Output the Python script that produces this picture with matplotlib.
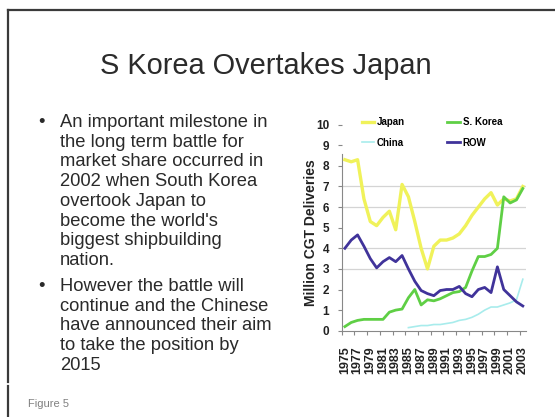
import matplotlib
matplotlib.use("Agg")
import matplotlib.pyplot as plt
from matplotlib.lines import Line2D

plt.rcParams["font.family"] = ["Liberation Sans", "DejaVu Sans"]

# deliveries, million CGT
years = list(range(1975, 2004))
japan = [8.3, 8.2, 8.3, 6.4, 5.3, 5.1, 5.5, 5.8, 4.9, 7.1,
         6.5, 5.3, 4.0, 3.0, 4.1, 4.4, 4.4, 4.5, 4.7, 5.1,
         5.6, 6.0, 6.4, 6.7, 6.1, 6.4, 6.3, 6.4, 7.0]
korea = [0.2, 0.4, 0.5, 0.55, 0.55, 0.55, 0.55, 0.9, 1.0, 1.05,
         1.6, 2.0, 1.25, 1.5, 1.45, 1.55, 1.7, 1.85, 1.9, 2.1,
         2.9, 3.6, 3.6, 3.7, 4.0, 6.5, 6.2, 6.35, 6.9]
china = [None] * 10 + [0.15, 0.2, 0.25, 0.25, 0.3, 0.3, 0.35, 0.4, 0.5, 0.55,
                       0.65, 0.8, 1.0, 1.15, 1.15, 1.25, 1.35, 1.5, 2.5]
row = [4.0, 4.4, 4.65, 4.1, 3.5, 3.05, 3.35, 3.55, 3.35, 3.65,
       3.0, 2.4, 1.95, 1.8, 1.7, 1.95, 2.0, 2.0, 2.15, 1.8,
       1.65, 2.0, 2.1, 1.85, 3.1, 2.0, 1.7, 1.4, 1.2]

year_labels = [str(y) for y in years[::2]]
grid_levels = [3, 4, 6, 7]

title = "S Korea Overtakes Japan"
bullets = [
    ["An important milestone in", "the long term battle for",
     "market share occurred in", "2002 when South Korea",
     "overtook Japan to", "become the world's",
     "biggest shipbuilding", "nation."],
    ["However the battle will", "continue and the Chinese",
     "have announced their aim", "to take the position by", "2015"],
]

W, H = 555, 417
fig = plt.figure(figsize=(W / 100, H / 100), dpi=100)
fig.patch.set_facecolor("white")


def fx(px):
    return px / W


def fy(py):
    return 1 - py / H


# slide frame
frame_kw = dict(color="#3a3a3a", lw=1.6, transform=fig.transFigure)
fig.add_artist(Line2D([fx(8), fx(8)], [fy(10), fy(382)], **frame_kw))
fig.add_artist(Line2D([fx(8), fx(8)], [fy(386), fy(417)], **frame_kw))
fig.add_artist(Line2D([fx(8), 1], [fy(10), fy(10)], **frame_kw))

fig.text(fx(266), fy(74), title, ha="center", va="baseline",
         fontsize=20.9, color="#2b2b2b")

# bullet text
text_kw = dict(fontsize=13.2, color="#2a2a2a", va="baseline")
base = 127
step = 19.7
for lines in bullets:
    fig.text(fx(38), fy(base), "\u2022", ha="left", **text_kw)
    for j, line in enumerate(lines):
        fig.text(fx(60), fy(base + j * step), line, ha="left", **text_kw)
    base += (len(lines) - 1) * step + 26

fig.text(fx(28), fy(407), "Figure 5", fontsize=8, color="#808080")

# chart, axes box in pixels: x 341.7..526, y 124.7..330.7
ax_l, ax_r, ax_t, ax_b = 341.7, 526, 124.7, 330.7
ax = fig.add_axes([fx(ax_l), fy(ax_b), fx(ax_r) - fx(ax_l), fy(ax_t) - fy(ax_b)])
for lvl in grid_levels:
    ax.axhline(lvl, color="#d4d4d4", lw=0.9, zorder=0)

ax.plot(years, china, color="#a8ecec", lw=1.2, label="China", zorder=2)
ax.plot(years, japan, color="#f0f25a", lw=2.4, label="Japan", zorder=3)
ax.plot(years, korea, color="#5fcf45", lw=2.0, label="S. Korea", zorder=3)
ax.plot(years, row, color="#40339a", lw=2.0, label="ROW", zorder=4)

ax.set_xlim(years[0] - 0.5, years[-1] + 0.5)
ax.set_ylim(0, 10)
ax.set_yticks(range(0, 11))
ax.set_xticks([y - 0.5 for y in years[::2]])
ax.set_xticklabels([])
ax.set_xticks(years[::2], minor=True)
ax.set_xticklabels(year_labels, minor=True, rotation=90,
                   fontsize=9, fontweight="bold", color="#222222")
ax.tick_params(axis="x", which="major", length=3, color="#888888", direction="out")
ax.tick_params(axis="x", which="minor", length=0, pad=11)
ax.tick_params(axis="y", length=3, color="#888888", pad=6,
               labelsize=8.5, labelcolor="#222222")
for lbl in ax.get_yticklabels():
    lbl.set_fontweight("bold")

for side in ["top", "right"]:
    ax.spines[side].set_visible(False)
ax.spines["left"].set_bounds(0, 8.6)
ax.spines["left"].set_color("#888888")
ax.spines["bottom"].set_color("#888888")

ax.set_ylabel("Million CGT Deliveries", fontsize=10, fontweight="bold",
              color="#222222")
ax.yaxis.set_label_coords((318 - ax_l) / (ax_r - ax_l), (ax_b - 233) / (ax_b - ax_t))

handles, labels = ax.get_legend_handles_labels()
order = [labels.index(n) for n in ["Japan", "China", "S. Korea", "ROW"]]
ax.legend([handles[i] for i in order], [labels[i] for i in order],
          ncol=2, loc="upper left", bbox_to_anchor=(0.06, 1.08),
          frameon=False, handlelength=1.3,
          handletextpad=0.3, columnspacing=4.3, labelspacing=1.1,
          prop={"weight": "bold", "size": 7})

fig.savefig("out.png", dpi=100, facecolor="white")
